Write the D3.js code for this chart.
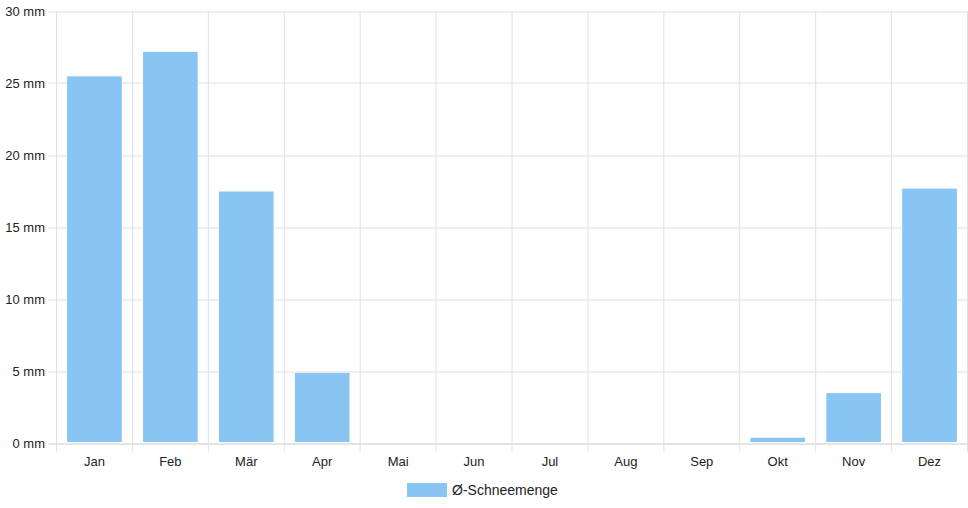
<!DOCTYPE html>
<html><head><meta charset="utf-8">
<script src="https://cdn.jsdelivr.net/npm/d3@7"></script>
<style>body{margin:0;background:#fff}svg{display:block;font-family:"Liberation Sans",Arial,sans-serif}</style>
</head><body><svg id="c" width="968" height="508"></svg>
<script>
const months = ["Jan","Feb","Mär","Apr","Mai","Jun","Jul","Aug","Sep","Okt","Nov","Dez"];
const snow = [25.5,27.2,17.5,4.9,0,0,0,0,0,0.4,3.5,17.7];
const yTicks = [0,5,10,15,20,25,30];
const seriesName = "Ø-Schneemenge";

const svg = d3.select("#c");
const L = 56.5, R = 967.5, T = 11.5, B = 443.5;
const x = d3.scaleBand().domain(months).range([L, R]).paddingInner(0).paddingOuter(0);
const y = d3.scaleLinear().domain([0,30]).range([B, T]);
const grid = "#e0e0e0";

// horizontal grid
svg.append("g").selectAll("line").data(yTicks).join("line")
  .attr("x1", L-8).attr("x2", R).attr("y1", d=>Math.round(y(d))+0.5-0.5).attr("y2", d=>Math.round(y(d))+0.5-0.5)
  .attr("stroke", d=> d===0 ? "#c8c8c8" : grid).attr("stroke-width",1);
// vertical grid
const bounds = months.map(m=>x(m)).concat([R]);
svg.append("g").selectAll("line").data(bounds).join("line")
  .attr("x1", d=>d).attr("x2", d=>d).attr("y1", T).attr("y2", B+8)
  .attr("stroke", grid).attr("stroke-width",1);

// bars
const bw = x.bandwidth()*0.72;
svg.append("g").selectAll("rect").data(months).join("rect")
  .attr("x", (m)=>x(m)+(x.bandwidth()-bw)/2)
  .attr("width", bw)
  .attr("y", (m,i)=>y(snow[i]))
  .attr("height", (m,i)=>Math.max(0, y(0)-y(snow[i])-1.5))
  .attr("fill", "#88c5f2");

// y labels
svg.append("g").selectAll("text").data(yTicks).join("text")
  .attr("x", 45).attr("y", d=>y(d)).attr("dy","0.35em")
  .attr("text-anchor","end").attr("font-size",13).attr("fill","#222")
  .text(d=>d+" mm");
// x labels
svg.append("g").selectAll("text").data(months).join("text")
  .attr("x", m=>x(m)+x.bandwidth()/2).attr("y", 461).attr("dy","0.35em")
  .attr("text-anchor","middle").attr("font-size",13).attr("fill","#222")
  .text(m=>m);

// legend
svg.append("rect").attr("x",407).attr("y",483).attr("width",40).attr("height",14).attr("fill","#88c5f2");
svg.append("text").attr("x",452).attr("y",490).attr("dy","0.35em").attr("font-size",14).attr("fill","#222").text(seriesName);
</script></body></html>
